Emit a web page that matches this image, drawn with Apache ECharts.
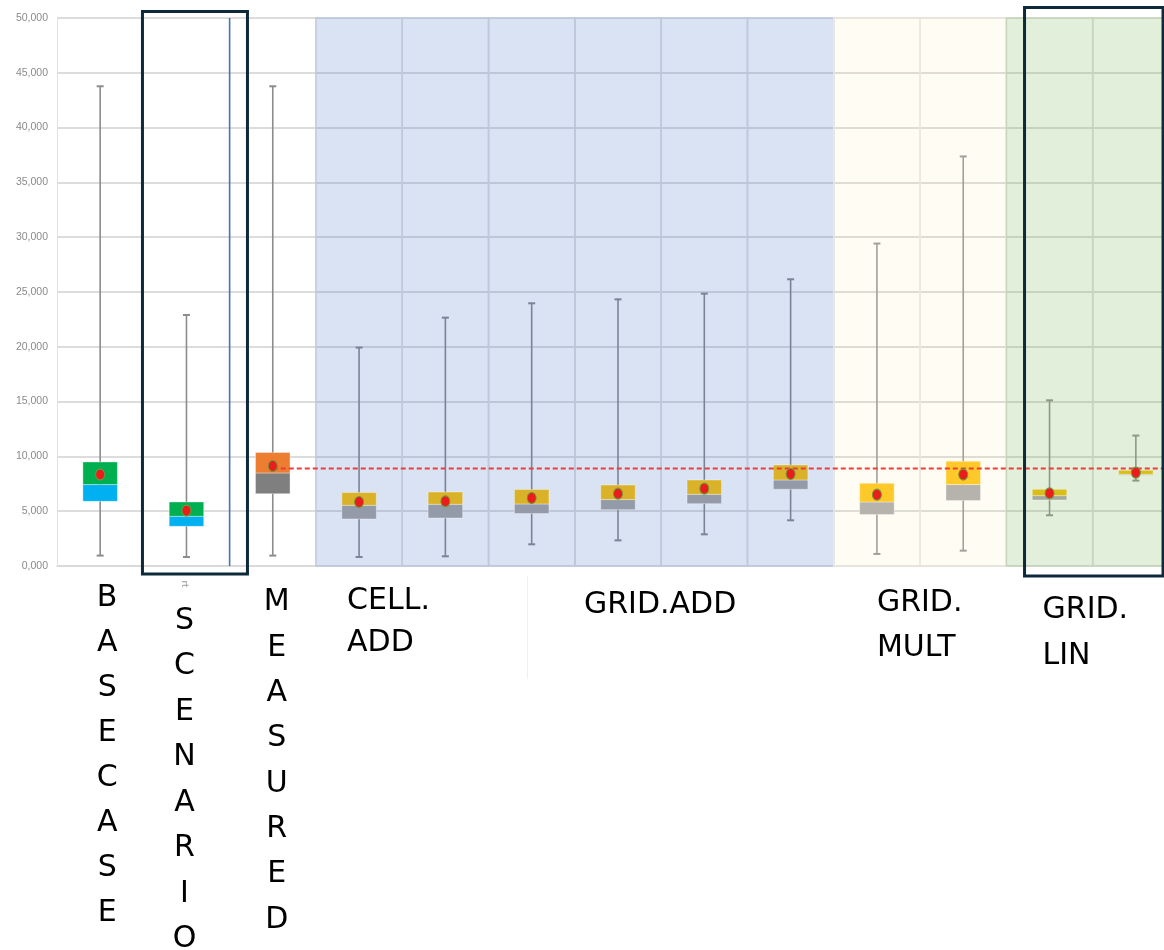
<!DOCTYPE html>
<html>
<head>
<meta charset="utf-8">
<script src="https://cdn.jsdelivr.net/npm/echarts@6/dist/echarts.min.js"></script>
<style>
  html, body { margin: 0; padding: 0; background: #ffffff; }
  #chart { width: 1164px; height: 950px; }
</style>
</head>
<body>
<div id="chart"></div>
<script>
// ---- data ----
const categories = ['BASECASE', 'SCENARIO', 'MEASURED', 'CELL.ADD',
  'GRID.ADD-1', 'GRID.ADD-2', 'GRID.ADD-3', 'GRID.ADD-4', 'GRID.ADD-5',
  'GRID.MULT-1', 'GRID.MULT-2', 'GRID.LIN-1', 'GRID.LIN-2'];
const groups = ['base', 'base', 'measured', 'add', 'add', 'add', 'add', 'add', 'add',
  'mult', 'mult', 'lin', 'lin'];
const whiskerLow  = [950, 820, 950, 820, 885, 1980, 2340, 2890, 4170, 1100, 1400, 4630, 7790];
const quartile1   = [5900, 3620, 6600, 4290, 4380, 4780, 5140, 5690, 7000, 4690, 5970, 6020, 8280];
const medians     = [7430, 4535, 8490, 5540, 5630, 5660, 6060, 6540, 7850, 5840, 7430, 6420, 8370];
const quartile3   = [9490, 5840, 10350, 6700, 6750, 6970, 7390, 7850, 9220, 7550, 9550, 7000, 8730];
const whiskerHigh = [43770, 22900, 43770, 19930, 22660, 23970, 24330, 24850, 26160, 29420, 37370, 15120, 11900];
const means       = [8340, 5055, 9120, 5840, 5900, 6200, 6600, 7060, 8400, 6510, 8340, 6630, 8520];
const measuredReference = 8900;
const yMin = 0, yMax = 50000, yStep = 5000;

// ---- styles per group ----
const boxStyle = {
  base:     { upper: '#00b050', lower: '#00b0f0', whisker: '#8c8c8c' },
  measured: { upper: '#ed7d31', lower: '#7f7f7f', whisker: '#8c8c8c' },
  add:      { upper: '#dab229', lower: '#939aa8', whisker: '#7b8497' },
  mult:     { upper: '#ffc929', lower: '#b6b3ad', whisker: '#a3a09b' },
  lin:      { upper: '#d9be1a', lower: '#a3aa9b', whisker: '#8e9987' }
};
const bandStyle = {
  add:  { fill: 'rgba(68,114,196,0.2)',  stroke: '#bfc9dc' },
  mult: { fill: 'rgba(255,220,120,0.09)', stroke: '#ebe8df' },
  lin:  { fill: 'rgba(112,173,71,0.2)',  stroke: '#c8d6bd' }
};

const rows = categories.map((c, i) =>
  [i, whiskerLow[i], quartile1[i], medians[i], quartile3[i], whiskerHigh[i], means[i]]);

const chart = echarts.init(document.getElementById('chart'), null, { renderer: 'canvas' });

function renderBand(params, api) {
  const i = api.value(0);
  const st = bandStyle[groups[i]];
  if (!st) return null;
  const cs = params.coordSys;
  const bw = api.size([1, 0])[0];
  const cx = api.coord([i, 0])[0];
  return {
    type: 'rect', silent: true,
    shape: { x: cx - bw / 2, y: cs.y, width: bw, height: cs.height },
    style: { fill: st.fill, stroke: st.stroke, lineWidth: 1.5 }
  };
}

function renderBox(params, api) {
  const i = api.value(0);
  const st = boxStyle[groups[i]];
  const cx = api.coord([i, 0])[0];
  const yLo = api.coord([i, api.value(1)])[1];
  const yQ1 = api.coord([i, api.value(2)])[1];
  const yMd = api.coord([i, api.value(3)])[1];
  const yQ3 = api.coord([i, api.value(4)])[1];
  const yHi = api.coord([i, api.value(5)])[1];
  const half = api.size([1, 0])[0] * 0.2;
  const cap = 3.5;
  return {
    type: 'group',
    children: [
      { type: 'line', shape: { x1: cx, y1: yHi, x2: cx, y2: yLo }, style: { stroke: st.whisker, lineWidth: 1.6 } },
      { type: 'line', shape: { x1: cx - cap, y1: yHi, x2: cx + cap, y2: yHi }, style: { stroke: st.whisker, lineWidth: 2 } },
      { type: 'line', shape: { x1: cx - cap, y1: yLo, x2: cx + cap, y2: yLo }, style: { stroke: st.whisker, lineWidth: 2 } },
      { type: 'rect', shape: { x: cx - half, y: yMd, width: half * 2, height: yQ1 - yMd },
        style: { fill: st.lower, stroke: 'rgba(255,255,255,0.35)', lineWidth: 1 } },
      { type: 'rect', shape: { x: cx - half, y: yQ3, width: half * 2, height: yMd - yQ3 },
        style: { fill: st.upper, stroke: 'rgba(255,255,255,0.35)', lineWidth: 1 } }
    ]
  };
}

function renderReference(params, api) {
  const cs = params.coordSys;
  const p = api.coord([api.value(0), api.value(1)]);
  return {
    type: 'line', silent: true,
    shape: { x1: p[0], y1: p[1], x2: cs.x + cs.width, y2: p[1] },
    style: { stroke: '#ee3b3b', lineWidth: 2, lineDash: [5, 3] }
  };
}

function yLabel(v) {
  return (v / 1000).toFixed(3).replace('.', ',');
}

chart.setOption({
  animation: false,
  backgroundColor: '#ffffff',
  // the last column runs past the right edge of the page
  grid: { left: 57, right: -15, top: 18, bottom: 384, containLabel: false, outerBoundsMode: 'none' },
  xAxis: {
    type: 'category', data: categories, boundaryGap: true,
    axisLine: { show: true, lineStyle: { color: '#d9d9d9', width: 1.5 } },
    axisTick: { show: false }, axisLabel: { show: false }, splitLine: { show: false }
  },
  yAxis: {
    type: 'value', min: yMin, max: yMax, interval: yStep,
    axisLine: { show: true, lineStyle: { color: '#e2e2e2', width: 1 } },
    axisTick: { show: false },
    axisLabel: {
      formatter: yLabel, color: '#8a8a8a', fontSize: 10.5, margin: 9,
      fontFamily: "'Liberation Sans Narrow', 'Liberation Sans', sans-serif"
    },
    splitLine: { lineStyle: { color: '#dcdcdc', width: 2 } }
  },
  series: [
    { type: 'custom', name: 'bands', renderItem: renderBand, data: rows, z: 1, silent: true,
      encode: { x: 0, y: 1 } },
    { type: 'custom', name: 'boxes', renderItem: renderBox, data: rows, z: 3,
      encode: { x: 0, y: [1, 2, 3, 4, 5] } },
    { type: 'custom', name: 'reference', renderItem: renderReference, z: 4,
      data: [[2, measuredReference]], encode: { x: 0, y: 1 } },
    { type: 'scatter', name: 'mean', z: 5,
      data: means.map((m, i) => [i, m]),
      symbol: 'circle', symbolSize: [9, 11],
      itemStyle: { color: '#ea1c1c', borderColor: '#6f9a3c', borderWidth: 1, opacity: 1 } }
  ]
});

// ---- annotations and group labels, placed from the category positions ----
const cx = i => chart.convertToPixel({ xAxisIndex: 0 }, categories[i]);
const step = cx(1) - cx(0);
const yTop = chart.convertToPixel({ yAxisIndex: 0 }, yMax);
const yBottom = chart.convertToPixel({ yAxisIndex: 0 }, yMin);
const frameColor = '#0e2a3a';
const labelFont = "'DejaVu Sans', 'Open Sans', sans-serif";

function stacked(word) { return word.split('').join('\n'); }

chart.setOption({
  graphic: [
    // divider after the scenario column
    { type: 'line', z: 10, silent: true,
      shape: { x1: cx(1) + step / 2, y1: yTop, x2: cx(1) + step / 2, y2: yBottom },
      style: { stroke: '#4472c4', lineWidth: 1.6 } },
    // highlight frames
    { type: 'rect', z: 10, silent: true,
      shape: { x: cx(1) - 44, y: yTop - 6.5, width: 105, height: (yBottom - yTop) + 14.5 },
      style: { fill: null, stroke: frameColor, lineWidth: 3 } },
    { type: 'rect', z: 10, silent: true,
      shape: { x: cx(11) - 25, y: yTop - 10.5, width: 138.5, height: (yBottom - yTop) + 20.5 },
      style: { fill: null, stroke: frameColor, lineWidth: 3 } },
    // faint separator under the chart
    { type: 'line', z: 1, silent: true,
      shape: { x1: 527.5, y1: yBottom + 10, x2: 527.5, y2: yBottom + 113 },
      style: { stroke: '#f0f0f0', lineWidth: 1 } },
    // small leftover axis text
    { type: 'text', z: 10, silent: true, x: cx(1) - 2, y: yBottom + 18, rotation: -Math.PI / 2,
      style: { text: 'rt', fill: '#9a9a9a', fontSize: 9, fontFamily: labelFont,
        align: 'center', verticalAlign: 'middle' } },
    // group labels
    { type: 'text', z: 10, silent: true, x: cx(0) + 7, y: 576,
      style: { text: stacked('BASECASE'), fill: '#000', fontSize: 30, lineHeight: 45,
        fontFamily: labelFont, align: 'center', verticalAlign: 'top' } },
    { type: 'text', z: 10, silent: true, x: cx(1) - 2, y: 598,
      style: { text: stacked('SCENARIO'), fill: '#000', fontSize: 30, lineHeight: 45.5,
        fontFamily: labelFont, align: 'center', verticalAlign: 'top' } },
    { type: 'text', z: 10, silent: true, x: cx(2) + 4, y: 580,
      style: { text: stacked('MEASURED'), fill: '#000', fontSize: 30, lineHeight: 45.3,
        fontFamily: labelFont, align: 'center', verticalAlign: 'top' } },
    { type: 'text', z: 10, silent: true, x: cx(3) - 12, y: 580,
      style: { text: 'CELL.\nADD', fill: '#000', fontSize: 30, lineHeight: 42,
        fontFamily: labelFont, align: 'left', verticalAlign: 'top' } },
    { type: 'text', z: 10, silent: true, x: cx(6) - 34, y: 583,
      style: { text: 'GRID.ADD', fill: '#000', fontSize: 30, lineHeight: 45,
        fontFamily: labelFont, align: 'left', verticalAlign: 'top' } },
    { type: 'text', z: 10, silent: true, x: cx(9), y: 581,
      style: { text: 'GRID.\nMULT', fill: '#000', fontSize: 30, lineHeight: 45,
        fontFamily: labelFont, align: 'left', verticalAlign: 'top' } },
    { type: 'text', z: 10, silent: true, x: cx(11) - 7, y: 587,
      style: { text: 'GRID.\nLIN', fill: '#000', fontSize: 30, lineHeight: 46,
        fontFamily: labelFont, align: 'left', verticalAlign: 'top' } }
  ]
});
</script>
</body>
</html>
